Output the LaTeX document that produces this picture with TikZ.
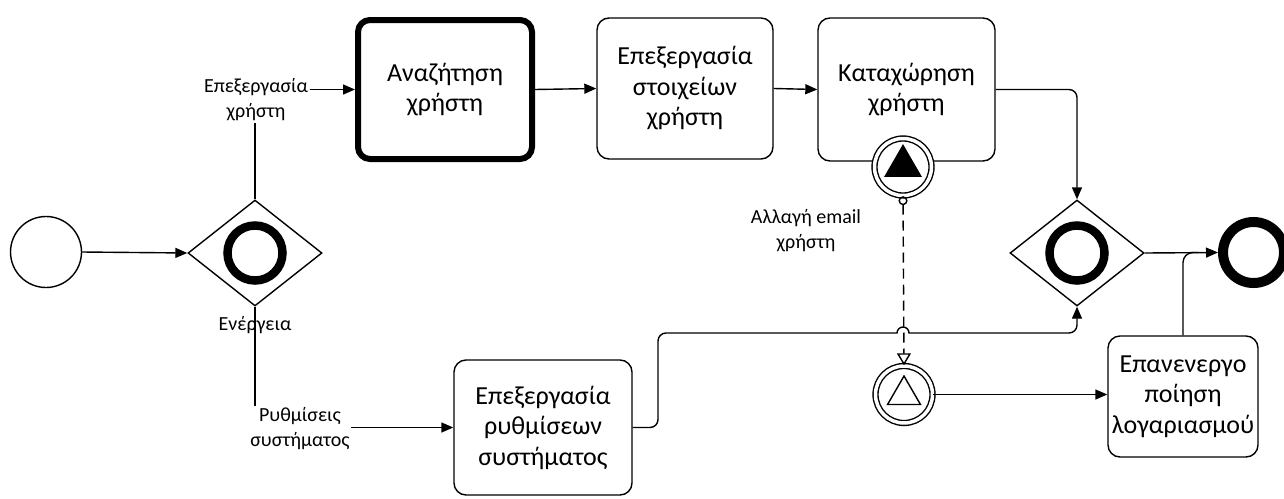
\documentclass[tikz,border=0pt]{standalone}
\usepackage{fontspec}
\setmainfont{Carlito}
\usetikzlibrary{arrows.meta,shapes.geometric}

\begin{document}
\begin{tikzpicture}[x=1pt, y=-1pt, >={Triangle[length=12pt,width=10pt]}, line width=1.4pt,
  task/.style={draw, rounded corners=12pt, align=center, inner sep=2pt, font=\fontsize{26}{30.5}\selectfont},
  gw/.style={draw, diamond, minimum width=134pt, minimum height=106pt, inner sep=0pt},
  ring/.style={draw, circle, line width=8.5pt, minimum size=55pt, inner sep=0pt},
  ev/.style={draw, circle, fill=white, double, double distance=3.5pt, minimum size=57pt, inner sep=0pt},
  tri/.style={draw, regular polygon, regular polygon sides=3, inner sep=0pt},
  lbl/.style={inner sep=1pt, align=center, font=\fontsize{20}{25}\selectfont}
]
\useasboundingbox (0,0) rectangle (1284,498);
% events and gateways
\node[draw, circle, minimum size=71pt, inner sep=0pt] (start) at (46,252) {};
\node[gw] (g1) at (255,253) {};
\node[ring] (g1r) at (g1) {};
\node[gw] (g2) at (1077,253) {};
\node[ring] (g2r) at (g2) {};
\node[draw, circle, line width=10pt, minimum size=61pt, inner sep=0pt] (end) at (1253.5,252.5) {};
% tasks
\node[task, line width=6pt, minimum width=174pt, minimum height=139pt] (search) at (445,89.5) {Αναζήτηση\\χρήστη};
\node[task, minimum width=176pt, minimum height=141pt] (proc) at (685,88.5) {Επεξεργασία\\στοιχείων\\χρήστη};
\node[task, minimum width=177pt, minimum height=143pt] (reg) at (906.5,89.5) {Καταχώρηση\\χρήστη};
\node[task, minimum width=178pt, minimum height=135pt] (setb) at (543,427.5) {Επεξεργασία\\ρυθμίσεων\\συστήματος};
\node[task, inner sep=0pt, text width=150pt, minimum height=121pt] (reac) at (1183,396.5) {Επανενεργο\\ποίηση\\λογαριασμού};
% signal events
\node[ev] (ev1) at (903,167) {};
\node[tri, fill=black, minimum size=41pt] (ev1t) at (903,166) {};
\node[ev] (ev2) at (904,394.5) {};
\node[tri, minimum size=38pt] (ev2t) at (904,395) {};
% flow labels
\node[lbl] (lu) at (256,100) {Επεξεργασία\\χρήστη};
\node[lbl] (la) at (255,325) {Ενέργεια};
\node[lbl, anchor=north] (ls) at (300,406) {Ρυθμίσεις\\συστήματος};
\node[lbl] (lm) at (806,231) {Αλλαγή email\\χρήστη};
% sequence flows
\draw[->] (start.east) -- (g1.west);
\draw (g1.north) -- (lu.south -| g1.north);
\draw[->] (lu.east |- search.west) -- (search.west);
\draw[->] (search.east) -- (proc.west);
\draw[->] (proc.east) -- (reg.west);
\draw[->, rounded corners=8pt] (reg.east) -| (g2.north);
\draw[->] (g2.east) -- (end.west);
\draw[rounded corners=10pt] (reac.north) |- ([xshift=-20pt]end.west);
\draw (g1.south) -- (ls.north -| g1.south);
\draw[->] (ls.east |- setb.west) -- (setb.west);
\draw[->] (setb.east) [rounded corners=8pt] -- (658,427.5) -- (658,333) -- (700,333)
  [sharp corners] -- (897,333) arc[start angle=180, end angle=0, radius=6pt] -- (1000,333)
  [rounded corners=8pt] -- (1077,333) -- (g2.south);
\draw[->] (ev2.east) -- (reac.west |- ev2.east);
% link between the signal events
\draw[dash pattern=on 10pt off 6pt, {Circle[open,length=9pt]}-{Triangle[open,length=12pt,width=14pt]}] (ev1.south) -- (ev2.north);
\end{tikzpicture}
\end{document}
